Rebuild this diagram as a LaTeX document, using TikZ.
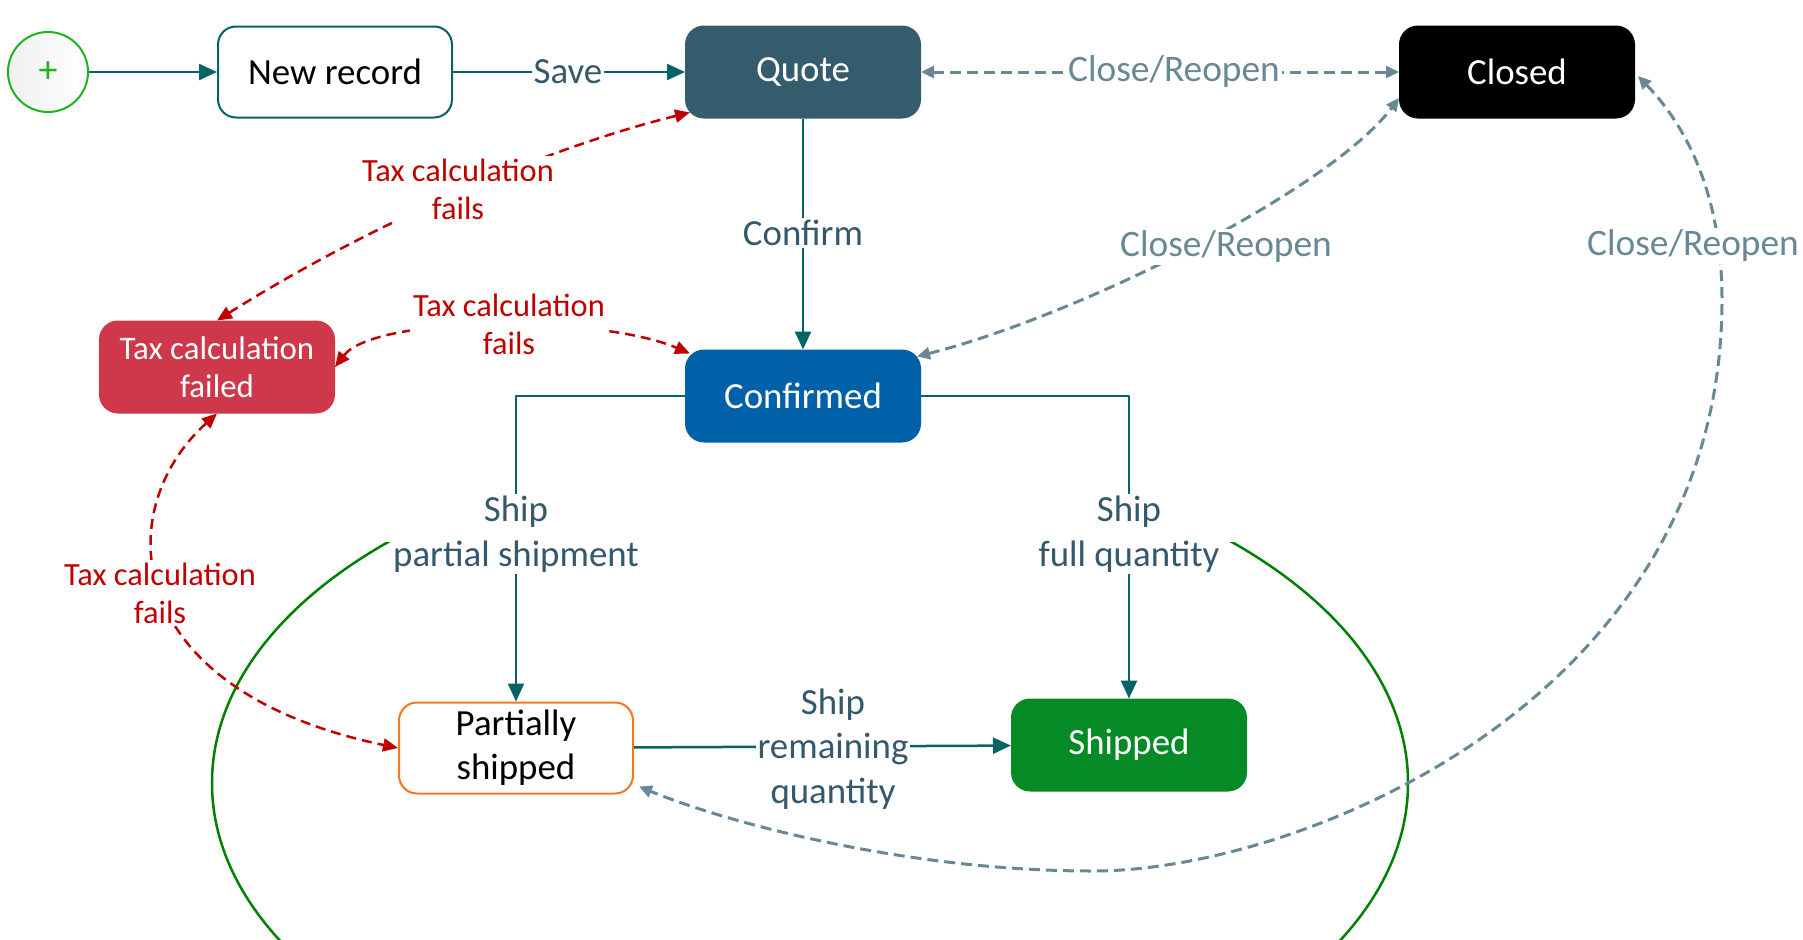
\documentclass[tikz,border=0pt]{standalone}
\usepackage{fontspec}
\setmainfont{Carlito}
\usepackage{tikz}
\usetikzlibrary{arrows.meta,positioning,calc,shapes}

\definecolor{flowteal}{RGB}{6,100,100}
\definecolor{labelslate}{RGB}{52,88,108}
\definecolor{closegrey}{RGB}{104,136,150}
\definecolor{failred}{RGB}{192,0,0}
\definecolor{quotefill}{RGB}{52,92,108}
\definecolor{confirmfill}{RGB}{0,96,168}
\definecolor{taxfill}{RGB}{206,56,74}
\definecolor{shipfill}{RGB}{6,138,38}
\definecolor{partialborder}{RGB}{240,120,30}
\definecolor{startgreen}{RGB}{30,180,30}
\definecolor{groupgreen}{RGB}{0,128,0}

\begin{document}
\begin{tikzpicture}[x=1bp,y=-1bp,line join=round,
  state/.style={draw,rounded corners=18bp,minimum width=234bp,minimum height=91bp,
    inner sep=2bp,align=center,line width=2bp,font=\fontsize{37}{44}\selectfont},
  flowarrow/.style={color=flowteal,line width=2.5bp,-{Triangle[length=18bp,width=16bp]}},
  closearrow/.style={color=closegrey,line width=3bp,dash pattern=on 11bp off 6bp,
    {Triangle[length=13bp,width=12bp]}-{Triangle[length=13bp,width=12bp]}},
  failarrow/.style={color=failred,line width=2.5bp,dash pattern=on 10bp off 6bp,
    {Triangle[length=15bp,width=13bp]}-{Triangle[length=15bp,width=13bp]}},
  flowlabel/.style={fill=white,inner sep=2bp,align=center,text=labelslate,
    font=\fontsize{37}{45}\selectfont},
  closelabel/.style={fill=white,inner sep=2bp,text=closegrey,font=\fontsize{37.5}{45}\selectfont},
  faillabel/.style={fill=white,inner sep=3bp,align=center,text=failred,
    font=\fontsize{32.5}{38}\selectfont},
]
\useasboundingbox (0,0) rectangle (1803,939);
%%
\begin{scope}
  \clip (0,542) rectangle (1803,939);
  \draw [groupgreen,line width=2.5bp] (810,783) ellipse [x radius=598bp,y radius=340bp];
\end{scope}
%%
\node (start) at (48,72) [circle,draw=startgreen,line width=2bp,minimum size=80bp,inner sep=0pt,
  left color=black!6,right color=white,text=startgreen,font=\fontsize{38}{40}\selectfont] {+};
\node (newrec) at (335,72) [state,draw=flowteal,fill=white] {New record};
\node (quote) at (803,72) [state,draw=quotefill,fill=quotefill,text=white] {Quote};
\node (closed) at (1517,72) [state,draw=black,fill=black,text=white] {Closed};
\node (taxfail) at (217,367) [state,draw=taxfill,fill=taxfill,text=white,
  font=\fontsize{33}{38}\selectfont] {Tax calculation\\failed};
\node (confirmed) at (803,396) [state,draw=confirmfill,fill=confirmfill,text=white] {Confirmed};
\node (partial) at (516,748) [state,draw=partialborder,fill=white] {Partially\\shipped};
\node (shipped) at (1129,745) [state,draw=shipfill,fill=shipfill,text=white] {Shipped};
%%
\draw [flowarrow] (start) -- (newrec);
\draw [flowarrow] (newrec) -- (quote);
\draw [flowarrow] (quote) -- (confirmed);
\draw [flowarrow] (confirmed.west) -| (partial.north);
\draw [flowarrow] (confirmed.east) -| (shipped.north);
\draw [flowarrow] (partial) -- (shipped);
%%
\draw [closearrow] (quote) -- (closed);
\draw [closearrow] ([shift={(-4,7)}]confirmed.north east) ..controls (1080,315) and (1330,190) .. ([shift={(0,26)}]closed.west);
\draw [closearrow] ([shift={(3,4)}]closed.east) ..controls (1690,130) and (1722,200) .. (1722,300)
  ..controls (1722,700) and (1300,871) .. (1093,871)
  ..controls (900,871) and (720,820) .. ([shift={(5,-8)}]partial.south east);
%%
\draw [failarrow] (taxfail.north) ..controls (375,221) and (552,146) .. ([shift={(5,-6)}]quote.south west);
\draw [failarrow] (taxfail.east) ..controls (375,315) and (600,315) .. ([shift={(5,4)}]confirmed.north west);
\draw [failarrow] (taxfail.south) ..controls (110,510) and (120,690) .. (partial.west);
%%
\node (lsave) at (568,72) [flowlabel] {Save};
\node (lconfirm) at (803,233) [flowlabel] {Confirm};
\node (lpartial) at (516,534) [flowlabel] {Ship\\partial shipment};
\node (lfull) at (1129,534) [flowlabel] {Ship\\full quantity};
\node (lremain) at (833,749) [flowlabel] {Ship\\remaining\\quantity};
\node (lclosetop) at (1174,72) [closelabel] {Close/Reopen};
\node (lclosemid) at (1226,247) [closelabel] {Close/Reopen};
\node (lcloseright) at (1693,246) [closelabel] {Close/Reopen};
\node (lfailquote) at (458,189) [faillabel] {Tax calculation\\fails};
\node (lfailconf) at (509,324) [faillabel] {Tax calculation\\fails};
\node (lfailpart) at (160,593) [faillabel] {Tax calculation\\fails};
%
\end{tikzpicture}
\end{document}
